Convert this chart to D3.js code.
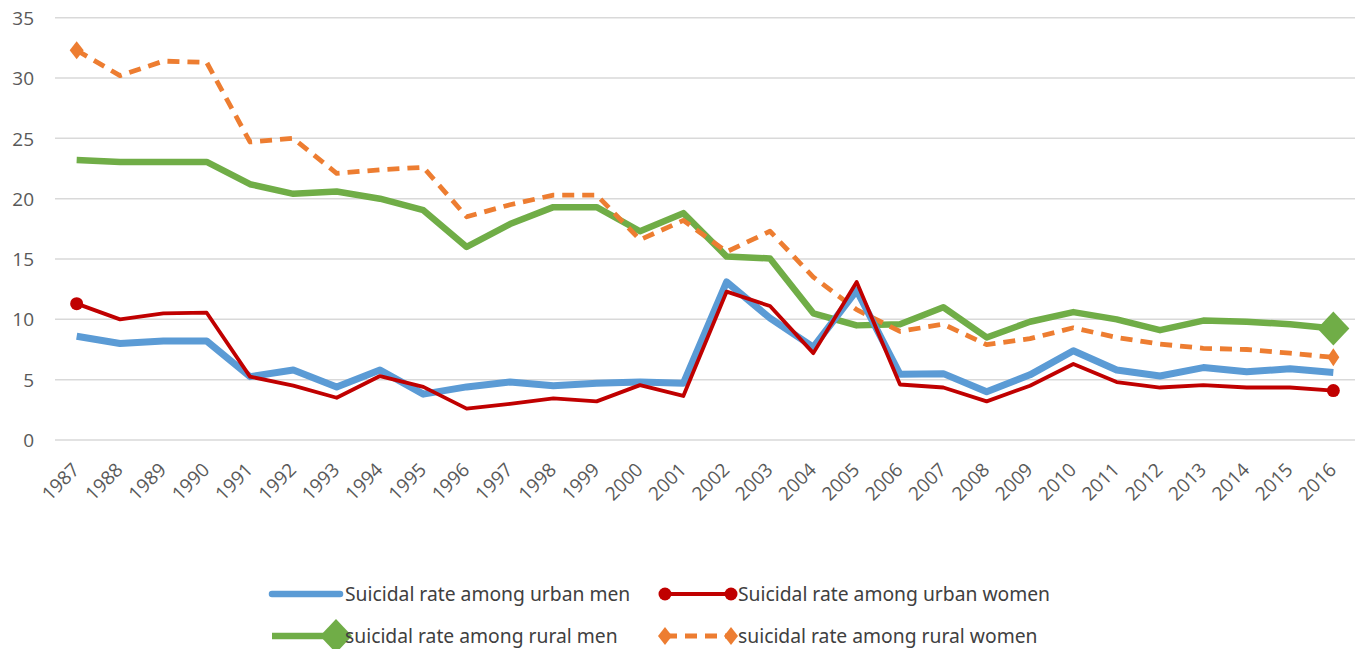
<!DOCTYPE html>
<html><head><meta charset="utf-8">
<script src="https://cdn.jsdelivr.net/npm/d3@7"></script>
<style>
html,body{margin:0;padding:0;background:#fff;}
svg{display:block;font-family:"Open Sans","Noto Sans",sans-serif;}
</style></head>
<body>
<svg id="chart" width="1361" height="649"></svg>
<script>
const years = [1987,1988,1989,1990,1991,1992,1993,1994,1995,1996,1997,1998,1999,2000,2001,2002,2003,2004,2005,2006,2007,2008,2009,2010,2011,2012,2013,2014,2015,2016];
const urbanMen   = [8.6,8.0,8.2,8.2,5.25,5.8,4.4,5.8,3.8,4.4,4.8,4.5,4.7,4.8,4.7,13.1,10.1,7.7,12.4,5.45,5.5,4.0,5.4,7.4,5.8,5.3,6.0,5.65,5.9,5.6];
const urbanWomen = [11.3,10.0,10.5,10.55,5.25,4.5,3.5,5.3,4.4,2.6,3.0,3.45,3.2,4.55,3.65,12.3,11.1,7.2,13.1,4.6,4.35,3.2,4.5,6.3,4.8,4.35,4.55,4.35,4.35,4.1];
const ruralMen   = [23.2,23.05,23.05,23.05,21.2,20.4,20.6,20.0,19.05,16.0,17.9,19.3,19.3,17.3,18.8,15.2,15.05,10.5,9.5,9.6,11.0,8.5,9.8,10.6,10.0,9.1,9.9,9.8,9.6,9.25];
const ruralWomen = [32.3,30.2,31.4,31.3,24.7,25.0,22.1,22.4,22.6,18.5,19.5,20.3,20.3,16.6,18.2,15.6,17.3,13.5,10.8,9.0,9.6,7.9,8.4,9.3,8.5,7.95,7.6,7.5,7.2,6.85];
const yTicks = [0,5,10,15,20,25,30,35];
const seriesNames = ["Suicidal rate among urban men","Suicidal rate among urban women","suicidal rate among rural men","suicidal rate among rural women"];

const svg = d3.select("#chart");
const pLeft = 55, pRight = 1355, pTop = 17.7, pBottom = 440;
const x = d3.scaleBand().domain(years).range([pLeft, pRight]);
const y = d3.scaleLinear().domain([0,35]).range([pBottom, pTop]);
const cx = d => x(d) + x.bandwidth()/2;

// grid
svg.append("g").selectAll("line").data(yTicks).join("line")
  .attr("x1", pLeft).attr("x2", pRight)
  .attr("y1", d=>y(d)).attr("y2", d=>y(d))
  .attr("stroke", "#d9d9d9").attr("stroke-width", 1.5);

// y axis labels
const yAxis = d3.axisLeft(y).tickValues(yTicks).tickSize(0).tickPadding(0);
const gy = svg.append("g").attr("transform", `translate(${pLeft-21},0)`).call(yAxis);
gy.select(".domain").remove();
gy.selectAll("text").attr("font-size", 19).attr("fill", "#595959")
  .attr("font-family", '"Open Sans","Noto Sans",sans-serif').attr("dy","0.35em");

// x axis labels
const xAxis = d3.axisBottom(x).tickSize(0).tickPadding(0);
const gx = svg.append("g").attr("transform", `translate(0,${pBottom})`).call(xAxis);
gx.select(".domain").remove();
gx.selectAll("text").attr("font-size", 19).attr("fill", "#595959")
  .attr("font-family", '"Open Sans","Noto Sans",sans-serif')
  .attr("text-anchor", "end").attr("dy", null).attr("y", 0)
  .attr("transform", "translate(4,31) rotate(-45)");

const line = d3.line().x((d,i)=>cx(years[i])).y(d=>y(d));

const specs = [
  {data: urbanMen, color:"#5B9BD5", w:7, dash:null},
  {data: urbanWomen, color:"#C00000", w:3.8, dash:null},
  {data: ruralMen, color:"#70AD47", w:6.5, dash:null},
  {data: ruralWomen, color:"#ED7D31", w:4.8, dash:"12,8"},
];
[specs[2], specs[3], specs[0], specs[1]].forEach(s=>{
  svg.append("path").datum(s.data).attr("d", line)
    .attr("fill","none").attr("stroke", s.color).attr("stroke-width", s.w)
    .attr("stroke-dasharray", s.dash).attr("stroke-linejoin","round");
});

function diamond(g, px, py, rx, ry, color){
  g.append("path").attr("d", `M${px},${py-ry}L${px+rx},${py}L${px},${py+ry}L${px-rx},${py}Z`).attr("fill", color);
}
function circle(g, px, py, r, color){
  g.append("circle").attr("cx",px).attr("cy",py).attr("r",r).attr("fill",color);
}
const n = years.length-1;
circle(svg, cx(years[0]), y(urbanWomen[0]), 6.5, "#C00000");
circle(svg, cx(years[n]), y(urbanWomen[n]), 6.5, "#C00000");
diamond(svg, cx(years[0]), y(ruralWomen[0]), 7, 9, "#ED7D31");
diamond(svg, cx(years[n]), y(ruralWomen[n]), 6, 9, "#ED7D31");
diamond(svg, cx(years[n]), y(ruralMen[n]), 16, 17, "#70AD47");

// legend
const lg = svg.append("g");
const legFont = 19.3;
function legText(tx, ty, t){
  lg.append("text").attr("x",tx).attr("y",ty).attr("dy","0.35em").text(t)
    .attr("font-size", legFont).attr("fill","#404040")
    .attr("font-family",'"Noto Sans","Open Sans",sans-serif');
}
lg.append("line").attr("x1",272).attr("x2",340).attr("y1",594).attr("y2",594)
  .attr("stroke","#5B9BD5").attr("stroke-width",6.5).attr("stroke-linecap","round");
legText(345, 594, seriesNames[0]);
lg.append("line").attr("x1",665).attr("x2",731).attr("y1",594).attr("y2",594)
  .attr("stroke","#C00000").attr("stroke-width",3.8);
circle(lg, 665, 594, 6.5, "#C00000");
circle(lg, 731, 594, 6.5, "#C00000");
legText(738, 594, seriesNames[1]);
lg.append("line").attr("x1",272).attr("x2",325).attr("y1",636).attr("y2",636)
  .attr("stroke","#70AD47").attr("stroke-width",6.5);
diamond(lg, 336, 636, 16, 17, "#70AD47");
legText(345, 636, seriesNames[2]);
lg.append("line").attr("x1",665).attr("x2",731).attr("y1",636).attr("y2",636)
  .attr("stroke","#ED7D31").attr("stroke-width",4.8).attr("stroke-dasharray","12,8");
diamond(lg, 665, 636, 7, 9, "#ED7D31");
diamond(lg, 731, 636, 7, 9, "#ED7D31");
legText(738, 636, seriesNames[3]);
</script>
</body></html>
